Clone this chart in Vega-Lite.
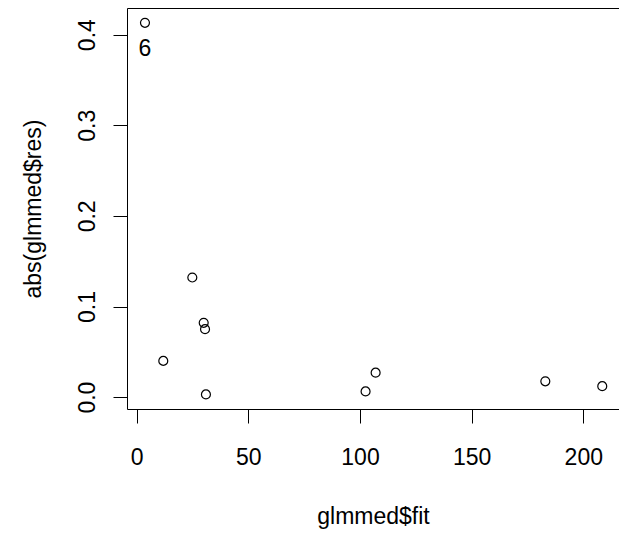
{
  "$schema": "https://vega.github.io/schema/vega-lite/v6.json",
  "autosize": {"type": "none"},
  "padding": {"left": 127, "top": 8, "right": 0, "bottom": 128},
  "width": 492,
  "height": 401,
  "background": "white",
  "config": {
    "view": {"stroke": null},
    "font": "Liberation Sans",
    "axis": {
      "grid": false,
      "domainColor": "black",
      "tickColor": "black",
      "labelColor": "black",
      "titleColor": "black",
      "labelFont": "Liberation Sans",
      "titleFont": "Liberation Sans",
      "labelFontSize": 23,
      "titleFontSize": 23,
      "titleFontWeight": "normal",
      "tickSize": 14,
      "domainWidth": 1,
      "tickWidth": 1
    }
  },
  "data": {
    "values": [
      {"fit": 3.7, "res": 0.413, "label": "6"},
      {"fit": 11.9, "res": 0.040, "label": ""},
      {"fit": 24.9, "res": 0.132, "label": ""},
      {"fit": 30.0, "res": 0.082, "label": ""},
      {"fit": 30.6, "res": 0.075, "label": ""},
      {"fit": 31.0, "res": 0.003, "label": ""},
      {"fit": 102.5, "res": 0.0063, "label": ""},
      {"fit": 107.0, "res": 0.027, "label": ""},
      {"fit": 183.0, "res": 0.0174, "label": ""},
      {"fit": 208.5, "res": 0.0121, "label": ""}
    ]
  },
  "resolve": {"axis": {"x": "independent"}},
  "layer": [
    {
      "mark": {"type": "point", "shape": "circle", "filled": false, "stroke": "black", "strokeWidth": 1.2, "size": 80, "opacity": 1},
      "encoding": {
        "x": {
          "field": "fit", "type": "quantitative",
          "scale": {"domain": [-4.35, 216.0], "nice": false, "zero": false},
          "axis": {"title": "glmmed$fit", "values": [0, 50, 100, 150, 200], "labelPadding": 23, "titlePadding": 36, "labelFlush": false, "labelOverlap": false}
        },
        "y": {
          "field": "res", "type": "quantitative",
          "scale": {"domain": [-0.0131, 0.4294], "nice": false, "zero": false},
          "axis": {"title": "abs(glmmed$res)", "values": [0, 0.1, 0.2, 0.3, 0.4], "format": ".1f", "labelAngle": -90, "labelAlign": "center", "labelBaseline": "alphabetic", "labelPadding": 19, "titlePadding": 31, "labelFlush": false, "labelOverlap": false}
        }
      }
    },
    {
      "transform": [{"filter": "datum.label != ''"}],
      "mark": {"type": "text", "fontSize": 23, "font": "Liberation Sans", "color": "black", "baseline": "middle", "align": "center", "dy": 26},
      "encoding": {
        "x": {"field": "fit", "type": "quantitative", "axis": {"orient": "top", "title": null, "labels": false, "ticks": false, "domain": true, "domainColor": "black"}},
        "y": {"field": "res", "type": "quantitative"},
        "text": {"field": "label"}
      }
    }
  ]
}
